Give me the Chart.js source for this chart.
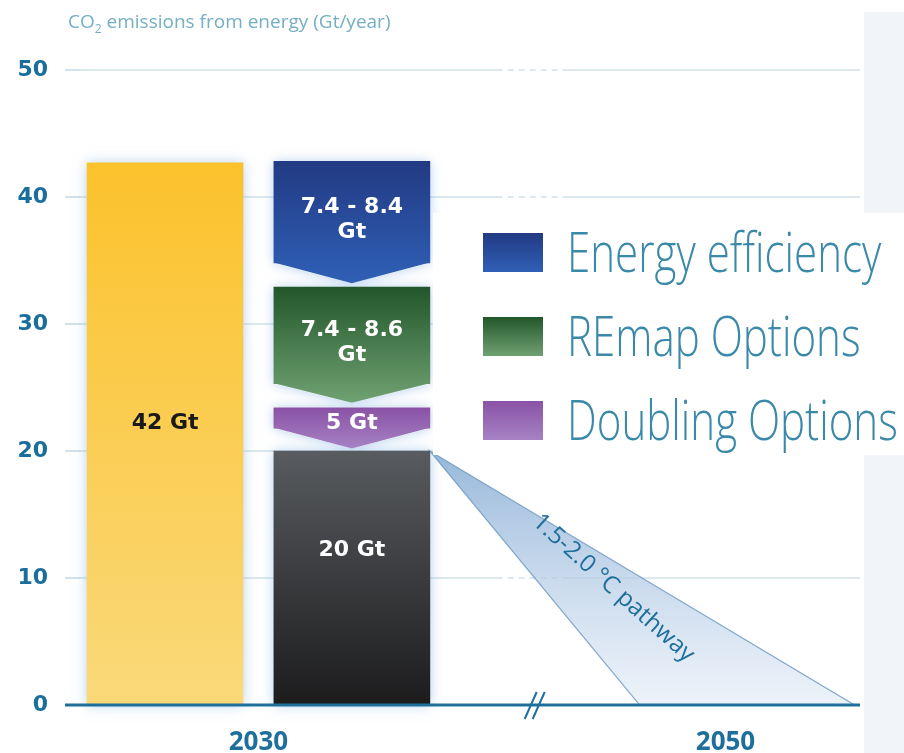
<!DOCTYPE html>
<html>
<head>
<meta charset="utf-8">
<script src="https://cdn.jsdelivr.net/npm/chart.js@4.4.0/dist/chart.umd.min.js"></script>
<style>
    html, body { margin: 0; padding: 0; background: #fff; }
    #wrap { width: 904px; height: 753px; position: relative; }
</style>
</head>
<body>
<div id="wrap"><canvas id="co2-chart"></canvas></div>
<script>
// axis ticks
const yTicks = [0, 10, 20, 30, 40, 50];
const xTickPos = [1.5, 4];
const xTickLabels = ['2030', '2050'];

// bar segments (2030 baseline + reduction wedges), values in Gt
const segNames = ['Baseline', 'Remaining', 'Doubling Options', 'REmap Options', 'Energy efficiency'];
const segX = [1, 2, 2, 2, 2];
const segLow = [0, 0, 21.8, 25.3, 34.8];
const segHigh = [42.7, 20, 23.4, 32.9, 42.8];
const segTip = [null, null, 20.2, 23.8, 33.2];
const segLabels = [['42 Gt'], ['20 Gt'], ['5 Gt'], ['7.4 - 8.6', 'Gt'], ['7.4 - 8.4', 'Gt']];
const segLabelAt = [22.2, 12.2, 22.2, 28.5, 38.2];

// legend entries
const legendNames = ['Energy efficiency', 'REmap Options', 'Doubling Options'];
const legendSeg = [4, 3, 2];

// 1.5-2.0 °C pathway wedge (apex, base right, base left)
const pathX = [2.417, 4.69, 3.54];
const pathY = [20, 0, 0];

const segColors = [
    ['#fbc22c', '#fad97a'],
    ['#585b5f', '#1c1c1d'],
    ['#8a52a6', '#a682c4'],
    ['#22572b', '#70a172'],
    ['#223a83', '#2f60b6']
];
const BLUE = '#1f6f9c';

/** Vertical gradient spanning one segment including its arrow tip */
function segGradient(chart, i) {
    const y = chart.scales.y;
    if (!chart.chartArea || !y) return segColors[i][0];
    const top = y.getPixelForValue(segHigh[i]);
    const bot = y.getPixelForValue(segTip[i] ?? segLow[i]);
    const g = chart.ctx.createLinearGradient(0, top, 0, bot);
    g.addColorStop(0, segColors[i][0]);
    g.addColorStop(1, segColors[i][1]);
    return g;
}

function segPath(ctx, chart, i) {
    const y = chart.scales.y;
    const bar = chart.getDatasetMeta(i).data[0];
    const half = bar.width / 2;
    const top = y.getPixelForValue(segHigh[i]);
    const bot = y.getPixelForValue(segLow[i]);
    ctx.beginPath();
    ctx.moveTo(bar.x - half, top);
    ctx.lineTo(bar.x + half, top);
    ctx.lineTo(bar.x + half, bot);
    if (segTip[i] != null) ctx.lineTo(bar.x, y.getPixelForValue(segTip[i]));
    ctx.lineTo(bar.x - half, bot);
    ctx.closePath();
}

const decor = {
    id: 'decor',
    beforeDraw(chart) {
        const { ctx } = chart;
        ctx.save();
        ctx.fillStyle = '#f1f4f8';
        ctx.fillRect(864, 12, 40, 741);
        ctx.restore();
    },
    beforeDatasetsDraw(chart) {
        const { ctx, scales: { x, y } } = chart;
        ctx.save();
        // gridlines turn dashed across the axis break
        const bx = x.getPixelForValue(3);
        ctx.fillStyle = '#ffffff';
        yTicks.forEach(v => {
            if (v === 0) return;
            const gy = y.getPixelForValue(v);
            for (let gx = bx - 36; gx < bx + 26; gx += 11) ctx.fillRect(gx, gy - 2, 5, 4);
        });

        // pathway wedge
        const px = pathX.map(v => x.getPixelForValue(v));
        const py = pathY.map(v => y.getPixelForValue(v));
        const g = ctx.createLinearGradient(0, py[0], 0, py[1]);
        g.addColorStop(0, 'rgba(140,176,214,0.9)');
        g.addColorStop(1, 'rgba(224,234,246,0.6)');
        ctx.beginPath();
        ctx.moveTo(px[0], py[0]);
        ctx.lineTo(px[1], py[1]);
        ctx.lineTo(px[2], py[2]);
        ctx.closePath();
        ctx.fillStyle = g;
        ctx.fill();
        ctx.strokeStyle = 'rgba(100,145,190,0.75)';
        ctx.lineWidth = 1.2;
        ctx.stroke();

        // pathway text
        const tx = x.getPixelForValue(3.40), ty = y.getPixelForValue(9.2);
        ctx.translate(tx, ty);
        ctx.rotate(42 * Math.PI / 180);
        ctx.font = '500 24px "Open Sans"';
        ctx.fillStyle = BLUE;
        ctx.textAlign = 'center';
        ctx.textBaseline = 'middle';
        ctx.fillText('1.5-2.0 °C pathway', 0, 0, 233);
        ctx.restore();

        // soft glow behind bars
        ctx.save();
        ctx.shadowColor = 'rgba(120,170,222,0.55)';
        ctx.shadowBlur = 12;
        ctx.fillStyle = '#ffffff';
        segNames.forEach((n, i) => { segPath(ctx, chart, i); ctx.fill(); });
        ctx.restore();
    },
    afterDatasetsDraw(chart) {
        const { ctx, scales: { y } } = chart;
        ctx.save();
        // arrow tips
        segTip.forEach((tip, i) => {
            if (tip == null) return;
            const bar = chart.getDatasetMeta(i).data[0];
            const half = bar.width / 2;
            const yb = y.getPixelForValue(segLow[i]);
            ctx.beginPath();
            ctx.moveTo(bar.x - half, yb - 0.5);
            ctx.lineTo(bar.x + half, yb - 0.5);
            ctx.lineTo(bar.x, y.getPixelForValue(tip));
            ctx.closePath();
            ctx.fillStyle = segGradient(chart, i);
            ctx.fill();
        });
        // segment labels
        ctx.font = 'bold 22px "DejaVu Sans"';
        ctx.textAlign = 'center';
        ctx.textBaseline = 'middle';
        segLabels.forEach((lines, i) => {
            const bar = chart.getDatasetMeta(i).data[0];
            const cy = y.getPixelForValue(segLabelAt[i]);
            ctx.fillStyle = i === 0 ? '#1a1a1a' : '#ffffff';
            lines.forEach((t, k) => {
                ctx.fillText(t, bar.x, cy + (k - (lines.length - 1) / 2) * 25);
            });
        });
        ctx.restore();
    },
    afterDraw(chart) {
        const { ctx, chartArea, scales: { x, y } } = chart;
        ctx.save();
        // x axis line
        const y0 = y.getPixelForValue(0);
        ctx.strokeStyle = BLUE;
        ctx.lineWidth = 3;
        ctx.beginPath();
        ctx.moveTo(65, y0);
        ctx.lineTo(chartArea.right, y0);
        ctx.stroke();
        // axis break marks
        const bx = x.getPixelForValue(3) - 8;
        ctx.lineWidth = 2;
        [0, 8].forEach(d => {
            ctx.beginPath();
            ctx.moveTo(bx + d - 6, y0 + 14);
            ctx.lineTo(bx + d + 6, y0 - 13);
            ctx.stroke();
        });

        // title
        ctx.fillStyle = '#74afc3';
        ctx.textBaseline = 'alphabetic';
        ctx.textAlign = 'left';
        ctx.font = '19px "Open Sans"';
        ctx.fillText('CO', 68, 28);
        let w = ctx.measureText('CO').width;
        ctx.font = '12px "Open Sans"';
        ctx.fillText('2', 68 + w, 33);
        w += ctx.measureText('2').width;
        ctx.font = '19px "Open Sans"';
        ctx.fillText(' emissions from energy (Gt/year)', 68 + w, 28, 354 - w);

        // legend box
        ctx.fillStyle = '#ffffff';
        ctx.fillRect(433, 213, 471, 242);
        legendNames.forEach((name, k) => {
            const top = 233 + k * 84;
            const i = legendSeg[k];
            const g = ctx.createLinearGradient(0, top, 0, top + 39);
            g.addColorStop(0, segColors[i][0]);
            g.addColorStop(1, segColors[i][1]);
            ctx.fillStyle = g;
            ctx.fillRect(483, top, 60, 39);
            ctx.save();
            ctx.translate(567, top + 39);
            ctx.scale(0.765, 1);
            ctx.font = '300 55px "Open Sans"';
            ctx.fillStyle = '#3a89a9';
            ctx.fillText(name, 0, 0);
            ctx.restore();
        });
        ctx.restore();
    }
};

const ctx = document.getElementById('co2-chart').getContext('2d');
new Chart(ctx, {
    type: 'bar',
    data: {
        datasets: segNames.map((name, i) => ({
            label: name,
            data: [{ x: segX[i], y: [segLow[i], segHigh[i]] }],
            backgroundColor: c => segGradient(c.chart, i),
            borderWidth: 0,
            barThickness: 156,
            grouped: false
        }))
    },
    options: {
        responsive: true,
        maintainAspectRatio: false,
        animation: false,
        layout: { padding: { top: 70, right: 44, left: 0, bottom: 0 } },
        plugins: { legend: { display: false }, tooltip: { enabled: false } },
        scales: {
            x: {
                type: 'linear',
                min: 0.55,
                max: 4.72,
                offset: false,
                grid: { display: false, drawTicks: false, offset: false },
                border: { display: false },
                afterBuildTicks: s => { s.ticks = xTickPos.map(v => ({ value: v })); },
                afterFit: s => { s.height = 48; },
                ticks: {
                    autoSkip: false,
                    maxRotation: 0,
                    padding: 22,
                    color: BLUE,
                    font: { family: 'Open Sans', weight: 'bold', size: 26 },
                    callback: v => xTickLabels[xTickPos.indexOf(v)] ?? ''
                }
            },
            y: {
                min: 0,
                max: 50,
                afterBuildTicks: s => { s.ticks = yTicks.map(v => ({ value: v })); },
                afterFit: s => { s.width = 81; },
                grid: {
                    color: c => (c.tick && c.tick.value === 0) ? 'rgba(0,0,0,0)' : '#dce8ee',
                    tickColor: c => (c.tick && c.tick.value === 0) ? BLUE : '#d3e2ea',
                    lineWidth: 2,
                    tickLength: 16
                },
                border: { display: false },
                ticks: {
                    padding: 17,
                    color: '#1a6e9c',
                    font: { family: 'DejaVu Sans', weight: 'bold', size: 22 }
                }
            }
        }
    },
    plugins: [decor]
});
</script>
</body>
</html>
